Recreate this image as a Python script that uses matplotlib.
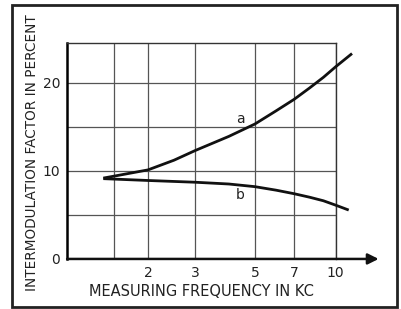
import matplotlib
matplotlib.use("Agg")
import matplotlib.pyplot as plt
from matplotlib.patches import Rectangle

# curve values
freq_a = [1.38, 1.5, 2.0, 2.5, 3.0, 4.0, 5.0, 6.0, 7.0, 8.0, 9.0, 10.0, 11.4]
imd_a = [9.2, 9.4, 10.1, 11.2, 12.3, 13.9, 15.3, 16.8, 18.1, 19.4, 20.6, 21.8, 23.2]
freq_b = [1.38, 2.0, 3.0, 4.0, 5.0, 6.0, 7.0, 8.0, 9.0, 10.0, 11.06]
imd_b = [9.1, 8.9, 8.7, 8.5, 8.2, 7.8, 7.4, 7.0, 6.6, 6.1, 5.6]

x_grid = [1.5, 2, 3, 5, 7, 10]
x_labels = [2, 3, 5, 7, 10]
y_grid = [5, 10, 15, 20]
y_labels = [0, 10, 20]

fig = plt.figure(figsize=(4.02, 3.09), dpi=100)
fig.patch.set_facecolor("white")
ax = fig.add_axes([0.167, 0.162, 0.668, 0.699])

ax.set_xscale("log")
ax.set_xlim(1, 10)
ax.set_ylim(0, 24.5)

for gx in x_grid:
    ax.axvline(gx, color="#555555", lw=0.9, zorder=1)
for gy in y_grid:
    ax.axhline(gy, color="#555555", lw=0.9, zorder=1)

ax.plot(freq_a, imd_a, color="#111111", lw=2.0, clip_on=False, zorder=3)
ax.plot(freq_b, imd_b, color="#111111", lw=2.0, clip_on=False, zorder=3)
ax.text(4.42, 15.9, "a", fontsize=10, ha="center", va="center", color="#222222")
ax.text(4.4, 7.3, "b", fontsize=10, ha="center", va="center", color="#222222")

ax.xaxis.set_major_locator(matplotlib.ticker.FixedLocator(x_labels))
ax.xaxis.set_minor_locator(matplotlib.ticker.NullLocator())
ax.set_xticklabels([str(v) for v in x_labels])
ax.set_yticks(y_labels)
ax.tick_params(length=0, labelsize=10, colors="#222222", pad=5)

for s in ["top", "right"]:
    ax.spines[s].set_linewidth(1.0)
    ax.spines[s].set_color("#333333")
ax.spines["left"].set_linewidth(1.8)
ax.spines["bottom"].set_visible(False)

# x axis drawn as an arrow past the plot area
ax.annotate("", xy=(1.16, 0), xytext=(0, 0), xycoords="axes fraction",
            arrowprops=dict(arrowstyle="-|>", color="#111111", lw=1.8,
                            mutation_scale=16, shrinkA=0, shrinkB=0))

ax.set_xlabel("MEASURING FREQUENCY IN KC", fontsize=10.5, color="#222222", labelpad=3)
fig.text(0.08, 0.505, "INTERMODULATION FACTOR IN PERCENT", rotation=90,
         fontsize=9.8, color="#222222", ha="center", va="center")

fig.patches.append(Rectangle((0.03, 0.005), 0.958, 0.978, transform=fig.transFigure,
                             fill=False, lw=2.0, edgecolor="#222222"))

fig.savefig("out.png", dpi=100)
